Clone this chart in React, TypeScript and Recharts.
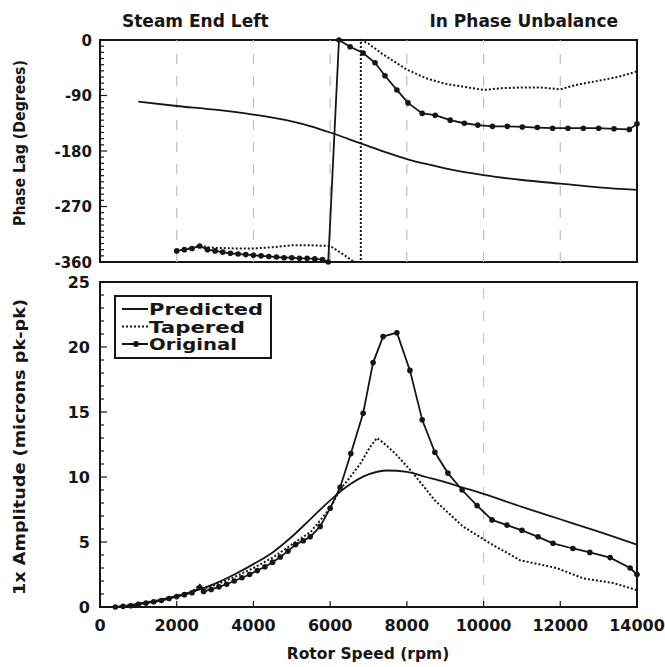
import {
  Label,
  Legend,
  Line,
  LineChart,
  ReferenceArea,
  ReferenceLine,
  XAxis,
  YAxis,
} from "recharts";

const FONT = "DejaVu Sans";
const INK = "#161616";
const PLOT_L = 100;
const PLOT_B = 335; // bottom of the amplitude plot inside its own chart

// axes
const rpmTicks = [0, 2000, 4000, 6000, 8000, 10000, 12000, 14000];
const phaseLabels = [-360, -270, -180, -90, 0];
const ampLabels = [0, 5, 10, 15, 20, 25];
const phaseGridRpm = [2000, 4000, 6000, 8000, 10000, 12000];
const phaseMinor = Array.from({ length: 37 }, (_, i) => -360 + i * 10);
const ampMinor = Array.from({ length: 26 }, (_, i) => i);
const legendOrder = ["Predicted", "Tapered", "Original"];

// phase lag (degrees)
const predPhaseRpm = [1000, 2000, 3000, 4000, 5000, 5500, 6000, 6500, 7000, 7500, 8000, 8500, 9000, 10000, 11000, 12000, 13000, 14000];
const predPhase = [-100, -107, -113, -121, -132, -140, -150, -161, -172, -183, -193, -201, -208, -219, -227, -233, -239, -243];

const origPhaseRpm = [2000, 2200, 2400, 2600, 2800, 3000, 3200, 3400, 3600, 3800, 4000, 4200, 4400, 4600, 4800, 5000, 5200, 5400, 5600, 5800, 5950, 6230, 6520, 6860, 7170, 7430, 7740, 8030, 8400, 8740, 9130, 9500, 9850, 10230, 10620, 11010, 11400, 11800, 12200, 12600, 13000, 13400, 13800, 14000];
const origPhase = [-342, -340, -338, -334, -340, -342, -344, -346, -347, -348, -349, -350, -351, -352, -353, -353, -354, -354, -355, -356, -360, 0, -11, -21, -37, -58, -81, -102, -119, -122, -130, -135, -138, -140, -140, -141, -142, -143, -143, -143, -143, -144, -145, -136];

const tapPhaseRpm = [2000, 2400, 2600, 2800, 3000, 3500, 4000, 4500, 5000, 5500, 6000, 6300, 6630, 6800, 6800, 7000, 7350, 7700, 8000, 8500, 9000, 9500, 10000, 10500, 11000, 11500, 12000, 12400, 13000, 13500, 14000];
const tapPhase = [-342, -337, -333, -336, -337, -338, -338, -336, -333, -333, -334, -346, -360, -360, 0, -6, -22, -36, -48, -62, -71, -76, -81, -78, -77, -77, -80, -73, -66, -60, -51];

// 1x amplitude (microns pk-pk)
const predAmpRpm = [500, 1000, 1500, 2000, 2500, 3000, 3500, 4000, 4500, 5000, 5500, 6000, 6500, 7000, 7500, 8000, 8500, 9000, 9500, 10000, 11000, 12000, 13000, 14000];
const predAmp = [0, 0.25, 0.5, 0.85, 1.25, 1.8, 2.5, 3.3, 4.2, 5.4, 6.8, 8.2, 9.4, 10.2, 10.5, 10.4, 10.0, 9.6, 9.15, 8.7, 7.7, 6.75, 5.8, 4.8];

const origAmpRpm = [400, 600, 800, 1000, 1200, 1400, 1600, 1800, 2000, 2200, 2400, 2600, 2700, 2900, 3100, 3300, 3500, 3700, 3900, 4100, 4300, 4500, 4700, 4900, 5100, 5300, 5480, 5740, 6000, 6260, 6540, 6860, 7120, 7380, 7740, 8080, 8400, 8730, 9070, 9440, 9830, 10220, 10610, 11000, 11420, 11810, 12330, 12770, 13300, 13820, 14000];
const origAmp = [0, 0.05, 0.1, 0.2, 0.3, 0.4, 0.5, 0.65, 0.8, 0.95, 1.1, 1.5, 1.2, 1.35, 1.55, 1.75, 2.0, 2.25, 2.5, 2.8, 3.1, 3.45, 3.85, 4.3, 4.8, 5.1, 5.4, 6.2, 7.6, 9.2, 11.8, 14.9, 18.8, 20.8, 21.1, 18.2, 14.4, 11.9, 10.3, 9.0, 7.8, 6.7, 6.3, 5.9, 5.4, 4.9, 4.5, 4.2, 3.8, 3.0, 2.5];

const tapAmpRpm = [400, 1000, 1500, 2000, 2400, 2600, 2700, 3000, 3500, 4000, 4500, 5000, 5500, 6000, 6250, 6500, 6780, 7040, 7220, 7400, 7700, 8160, 8730, 9460, 10170, 10950, 11900, 12600, 13370, 14000];
const tapAmp = [0, 0.2, 0.45, 0.8, 1.2, 1.7, 1.4, 1.7, 2.3, 3.0, 3.8, 4.8, 5.8, 7.6, 9.0, 9.9, 11.0, 12.3, 13.0, 12.6, 11.8, 10.3, 8.2, 6.2, 4.9, 3.6, 3.0, 2.2, 1.85, 1.3];

const zip = (xs: number[], ys: number[]) => xs.map((rpm, i) => ({ rpm, v: ys[i] }));

const txt = { fontFamily: FONT, fontWeight: 700, fill: INK };

function PhaseTick(props: any) {
  const { y, payload } = props;
  const v = payload.value;
  const major = phaseLabels.includes(v);
  return (
    <g>
      <line x1={PLOT_L} x2={PLOT_L + (major ? 7 : 4)} y1={y} y2={y} stroke={INK} strokeWidth={1.2} />
      {major ? (
        <text x={92} y={y} dy={5.5} textAnchor="end" fontSize={15} {...txt}>
          {v}
        </text>
      ) : null}
    </g>
  );
}

function AmpTick(props: any) {
  const { y, payload } = props;
  const v = payload.value;
  const major = ampLabels.includes(v);
  return (
    <g>
      <line x1={PLOT_L} x2={PLOT_L + (major ? 7 : 4)} y1={y} y2={y} stroke={INK} strokeWidth={1.2} />
      {major ? (
        <text x={90} y={y} dy={6} textAnchor="end" fontSize={16} {...txt}>
          {v}
        </text>
      ) : null}
    </g>
  );
}

function RpmTick(props: any) {
  const { x, payload } = props;
  return (
    <g>
      <line x1={x} x2={x} y1={PLOT_B} y2={PLOT_B - 6} stroke={INK} strokeWidth={1.2} />
      <text x={x} y={PLOT_B + 24} textAnchor="middle" fontSize={16} {...txt}>
        {payload.value}
      </text>
    </g>
  );
}

function SideTitle({ text, cy, length }: { text: string; cy: number; length: number }) {
  return (
    <text
      x={25}
      y={cy}
      transform={`rotate(-90, 25, ${cy})`}
      textAnchor="middle"
      fontSize={15}
      textLength={length}
      lengthAdjust="spacingAndGlyphs"
      {...txt}
    >
      {text}
    </text>
  );
}

const legendLook: Record<string, { dash?: string; dot?: boolean; len: number }> = {
  Predicted: { len: 114 },
  Tapered: { dash: "2 2", len: 96 },
  Original: { dot: true, len: 88 },
};

function LegendBox(props: any) {
  const items = [...(props.payload ?? [])].sort(
    (a: any, b: any) => legendOrder.indexOf(a.value) - legendOrder.indexOf(b.value),
  );
  return (
    <svg width={158} height={64} style={{ display: "block" }}>
      <rect x={1} y={1} width={156} height={62} fill="#fff" stroke={INK} strokeWidth={2} />
      {items.map((item: any, i: number) => {
        const look = legendLook[item.value] ?? { len: 90 };
        const base = 20 + i * 17.5;
        const ly = base - 6;
        return (
          <g key={item.value}>
            <line x1={8} x2={34} y1={ly} y2={ly} stroke={INK} strokeWidth={2} strokeDasharray={look.dash} />
            {look.dot ? <circle cx={22} cy={ly} r={3} fill={INK} /> : null}
            <text x={35} y={base} fontSize={16} textLength={look.len} lengthAdjust="spacingAndGlyphs" {...txt}>
              {item.value}
            </text>
          </g>
        );
      })}
    </svg>
  );
}

export default function App() {
  return (
    <div
      style={{
        position: "absolute",
        left: 0,
        top: 0,
        width: 665,
        height: 667,
        background: "#fff",
        fontFamily: FONT,
      }}
    >
      <div style={{ position: "absolute", left: 0, top: 0 }}>
        <LineChart width={665} height={276} margin={{ top: 40, right: 28, bottom: 14, left: 0 }}>
          <XAxis type="number" dataKey="rpm" domain={[0, 14000]} ticks={rpmTicks} hide />
          <YAxis
            type="number"
            dataKey="v"
            domain={[-360, 0]}
            ticks={phaseMinor}
            interval={0}
            width={100}
            axisLine={false}
            tickLine={false}
            tick={<PhaseTick />}
          >
            <Label content={() => <SideTitle text="Phase Lag (Degrees)" cy={143} length={166} />} />
          </YAxis>
          {phaseGridRpm.map((r) => (
            <ReferenceLine key={r} x={r} stroke="#bdbdbd" strokeWidth={1.2} strokeDasharray="10 12" />
          ))}
          <ReferenceArea x1={0} x2={14000} y1={-360} y2={0} fill="none" stroke={INK} strokeWidth={2} />
          <Line
            data={zip(predPhaseRpm, predPhase)}
            dataKey="v"
            name="Predicted"
            type="monotone"
            stroke={INK}
            strokeWidth={1.8}
            dot={false}
            isAnimationActive={false}
          />
          <Line
            data={zip(tapPhaseRpm, tapPhase)}
            dataKey="v"
            name="Tapered"
            type="linear"
            stroke={INK}
            strokeWidth={2}
            strokeDasharray="2 2"
            dot={false}
            isAnimationActive={false}
          />
          <Line
            data={zip(origPhaseRpm, origPhase)}
            dataKey="v"
            name="Original"
            type="linear"
            stroke={INK}
            strokeWidth={1.8}
            dot={{ r: 2.8, fill: INK, strokeWidth: 0 }}
            isAnimationActive={false}
          />
        </LineChart>
      </div>

      <div style={{ position: "absolute", left: 0, top: 272 }}>
        <LineChart width={665} height={395} margin={{ top: 10, right: 28, bottom: 0, left: 0 }}>
          <XAxis
            type="number"
            dataKey="rpm"
            domain={[0, 14000]}
            ticks={rpmTicks}
            interval={0}
            height={60}
            axisLine={false}
            tickLine={false}
            tick={<RpmTick />}
          >
            <Label
              content={() => (
                <text x={368} y={387} textAnchor="middle" fontSize={15.5} {...txt}>
                  Rotor Speed (rpm)
                </text>
              )}
            />
          </XAxis>
          <YAxis
            type="number"
            dataKey="v"
            domain={[0, 25]}
            ticks={ampMinor}
            interval={0}
            width={100}
            axisLine={false}
            tickLine={false}
            tick={<AmpTick />}
          >
            <Label content={() => <SideTitle text="1x Amplitude (microns pk-pk)" cy={175} length={296} />} />
          </YAxis>
          <ReferenceLine x={10000} stroke="#c8c8c8" strokeWidth={1.2} strokeDasharray="10 12" />
          <ReferenceArea x1={0} x2={14000} y1={0} y2={25} fill="none" stroke={INK} strokeWidth={2} />
          <Legend
            layout="horizontal"
            verticalAlign="middle"
            align="center"
            width={158}
            wrapperStyle={{ left: 114, top: 23, width: 158 }}
            content={<LegendBox />}
          />
          <Line
            data={zip(predAmpRpm, predAmp)}
            dataKey="v"
            name="Predicted"
            type="monotone"
            stroke={INK}
            strokeWidth={1.8}
            dot={false}
            isAnimationActive={false}
          />
          <Line
            data={zip(tapAmpRpm, tapAmp)}
            dataKey="v"
            name="Tapered"
            type="linear"
            stroke={INK}
            strokeWidth={2}
            strokeDasharray="2 2"
            dot={false}
            isAnimationActive={false}
          />
          <Line
            data={zip(origAmpRpm, origAmp)}
            dataKey="v"
            name="Original"
            type="linear"
            stroke={INK}
            strokeWidth={1.8}
            dot={{ r: 2.8, fill: INK, strokeWidth: 0 }}
            isAnimationActive={false}
          />
        </LineChart>
      </div>

      <svg
        width={665}
        height={36}
        style={{ position: "absolute", left: 0, top: 0, pointerEvents: "none" }}
      >
        <text x={122} y={27} fontSize={17} {...txt}>
          Steam End Left
        </text>
        <text x={618} y={27} fontSize={17} textAnchor="end" {...txt}>
          In Phase Unbalance
        </text>
      </svg>
    </div>
  );
}
